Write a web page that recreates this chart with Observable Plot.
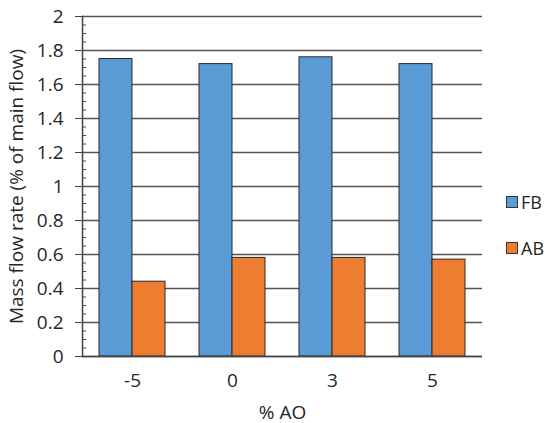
<!DOCTYPE html>
<html><head><meta charset="utf-8">
<script src="https://cdn.jsdelivr.net/npm/d3@7"></script>
<script src="https://cdn.jsdelivr.net/npm/@observablehq/plot@0.6"></script>
<style>
body{margin:0;background:#fff;}
#wrap{position:relative;width:552px;height:423px;font-family:"Open Sans",sans-serif;}
.leg{position:absolute;left:506px;display:flex;align-items:center;font-size:18px;color:#262626;line-height:1;}
.sw{width:10px;height:10px;border:1px solid #333;margin-right:3px;}
</style></head><body><div id="wrap"></div>
<script>
const categories = ["-5", "0", "3", "5"];
const seriesNames = ["FB", "AB"];
const fbValues = [1.75, 1.72, 1.76, 1.72];
const abValues = [0.44, 0.58, 0.58, 0.57];
const seriesColors = ["#5B9BD5", "#ED7D31"];
const yTicks = [0, 0.2, 0.4, 0.6, 0.8, 1, 1.2, 1.4, 1.6, 1.8, 2];
const yMinorTicks = [0.05,0.1,0.15,0.25,0.3,0.35,0.45,0.5,0.55,0.65,0.7,0.75,0.85,0.9,0.95,1.05,1.1,1.15,1.25,1.3,1.35,1.45,1.5,1.55,1.65,1.7,1.75,1.85,1.9,1.95];
const yLabel = "Mass flow rate (% of main flow)";
const xLabel = "% AO";

const table = categories.flatMap((c, i) => [
  {cat: c, series: seriesNames[0], value: fbValues[i]},
  {cat: c, series: seriesNames[1], value: abValues[i]}
]);

const chart = Plot.plot({
  width: 552, height: 423,
  marginLeft: 82, marginRight: 70, marginTop: 16, marginBottom: 67,
  style: {fontFamily: "Open Sans", fontSize: "19px", color: "#262626", background: "white"},
  fx: {domain: categories, paddingInner: 0, paddingOuter: 0, label: null},
  x: {domain: seriesNames, paddingInner: 0, paddingOuter: 0.4925, axis: null},
  y: {domain: [0, 2], label: null},
  color: {domain: seriesNames, range: seriesColors},
  marks: [
    Plot.gridY(yTicks, {stroke: "#555", strokeOpacity: 1, strokeWidth: 1.3}),
    Plot.barY(table, {fx: "cat", x: "series", y: "value", fill: "series", stroke: "#2a2a2a", strokeWidth: 1}),
    Plot.ruleY([0], {stroke: "#444", strokeWidth: 1.5}),
    Plot.frame({anchor: "left", facetAnchor: "left", stroke: "#444", strokeWidth: 1.5}),
    Plot.axisY(yTicks, {tickSize: 7, tickPadding: 12, tickFormat: d => String(d), fontSize: 19, stroke: "#444",
      label: yLabel, labelAnchor: "center", labelOffset: 73, labelArrow: "none"}),
    Plot.axisY(yMinorTicks, {tickSize: 4, dx: 4, text: null, label: null, stroke: "#444"}),
    Plot.axisFx({anchor: "bottom", tickSize: 0, tickPadding: 17, fontSize: 19, label: xLabel, labelAnchor: "center", labelOffset: 62})
  ]
});
const wrap = document.getElementById("wrap");
wrap.appendChild(chart);
seriesNames.forEach((s, i) => {
  const d = document.createElement("div");
  d.className = "leg";
  d.style.top = (i === 0 ? 193 : 239) + "px";
  d.innerHTML = `<span class="sw" style="background:${seriesColors[i]}"></span><span>${s}</span>`;
  wrap.appendChild(d);
});
</script></body></html>
